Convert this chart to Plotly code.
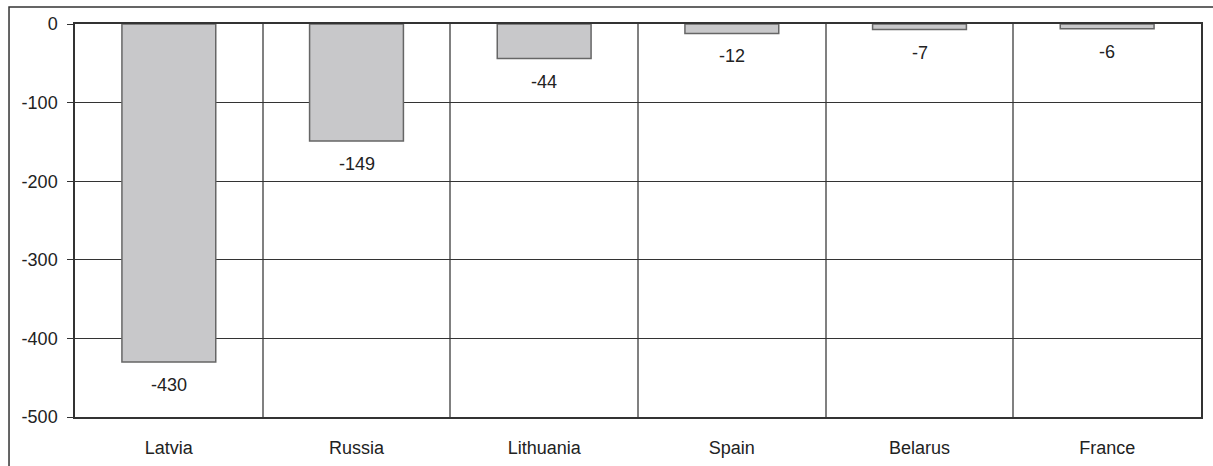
import plotly.graph_objects as go

countries = ["Latvia", "Russia", "Lithuania", "Spain", "Belarus", "France"]
values = [-430, -149, -44, -12, -7, -6]
y_ticks = [0, -100, -200, -300, -400, -500]
y_tick_labels = ["0", "-100", "-200", "-300", "-400", "-500"]

FONT = "Liberation Sans, Arial, sans-serif"
TXT = "#222222"

fig = go.Figure()
fig.add_trace(go.Bar(
    x=countries, y=values,
    marker=dict(color="#c8c8ca", line=dict(color="#666666", width=1.5)),
    width=0.5,
    hoverinfo="skip",
))

for c, v in zip(countries, values):
    fig.add_annotation(x=c, y=v, text=str(v), showarrow=False,
                       yanchor="middle", yshift=-23,
                       font=dict(family=FONT, size=18, color=TXT))

# outer frame (partially cropped in the reference)
fig.add_shape(type="rect", xref="paper", yref="paper",
              x0=-0.0586, x1=1.2, y0=-0.3, y1=1.0433,
              line=dict(color="#333333", width=1.5), layer="below")

fig.update_layout(
    width=1213, height=466,
    margin=dict(l=75, r=12, t=24, b=49),
    paper_bgcolor="white", plot_bgcolor="white",
    showlegend=False,
    font=dict(family=FONT, size=18, color=TXT),
    xaxis=dict(
        type="category",
        tickson="boundaries",
        showgrid=True, gridcolor="#808080", gridwidth=1.5,
        ticks="", ticklabelstandoff=14,
        showline=True, linecolor="#333333", linewidth=1.5, mirror=True,
        tickfont=dict(family=FONT, size=18, color=TXT),
        automargin=False,
        fixedrange=True,
    ),
    yaxis=dict(
        range=[-500, 0],
        tickvals=y_ticks,
        ticktext=y_tick_labels,
        showgrid=True, gridcolor="#333333", gridwidth=1.2,
        zeroline=False,
        ticks="outside", ticklen=6, tickcolor="#333333", tickwidth=1.2,
        showline=True, linecolor="#333333", linewidth=1.5, mirror=True,
        tickfont=dict(family=FONT, size=18, color=TXT),
        ticklabelstandoff=6,
        automargin=False,
        fixedrange=True,
    ),
)

fig.write_html("out.html")
